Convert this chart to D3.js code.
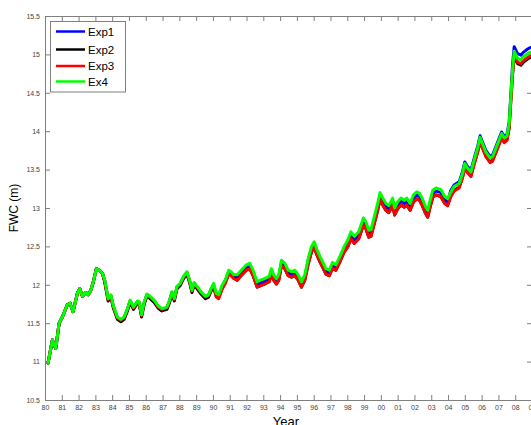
<!DOCTYPE html>
<html>
<head>
<meta charset="utf-8">
<script src="https://cdn.jsdelivr.net/npm/d3@7"></script>
<style>
  body { margin: 0; background: #fff; }
  svg { display: block; font-family: "Liberation Sans", Arial, sans-serif; }
</style>
</head>
<body>
<div id="chart"></div>
<script>
// decimal years of the sampled points
const years = [
  1980.18, 1980.44, 1980.64, 1980.84, 1981.03, 1981.33, 1981.49, 1981.67, 1981.93, 1982.07,
  1982.23, 1982.43, 1982.58, 1982.73, 1982.88, 1983.06, 1983.22, 1983.42,
  1983.56, 1983.76, 1983.92, 1984.08, 1984.31, 1984.52, 1984.71, 1984.91, 1985.07, 1985.27,
  1985.51, 1985.61, 1985.75, 1985.91, 1986.07, 1986.26, 1986.50, 1986.76, 1986.96, 1987.26,
  1987.42, 1987.56, 1987.70, 1987.86, 1988.05, 1988.25, 1988.45, 1988.61, 1988.75, 1988.89,
  1989.05, 1989.29, 1989.55, 1989.74, 1989.89,
  1990.04, 1990.20, 1990.34, 1990.54, 1990.74, 1990.94, 1991.08, 1991.24,
  1991.44, 1991.69, 1991.99, 1992.19, 1992.39, 1992.63, 1992.83, 1993.08, 1993.35, 1993.48,
  1993.62, 1993.78, 1993.92, 1994.08, 1994.28, 1994.48, 1994.68, 1994.87, 1995.08, 1995.27,
  1995.47, 1995.67, 1995.87, 1996.03, 1996.21, 1996.37, 1996.53, 1996.73, 1996.93, 1997.12,
  1997.32, 1997.56, 1997.82,
  1998.02, 1998.22, 1998.42, 1998.68, 1998.96, 1999.11, 1999.28, 1999.41, 1999.61, 1999.81,
  1999.95, 2000.11, 2000.30, 2000.47, 2000.60, 2000.70, 2000.82, 2001.00, 2001.20, 2001.40,
  2001.54, 2001.74, 2001.94, 2002.14, 2002.30, 2002.45, 2002.66, 2002.79, 2002.93, 2003.09,
  2003.29, 2003.57, 2003.80, 2003.97,
  2004.15, 2004.36, 2004.66, 2004.86, 2005.00, 2005.16, 2005.36, 2005.56, 2005.76, 2005.91,
  2006.05, 2006.25, 2006.51, 2006.65, 2006.85, 2007.05, 2007.19, 2007.35, 2007.51, 2007.64,
  2007.74,
  2007.84, 2007.94, 2008.14, 2008.34, 2008.50, 2008.74, 2008.90
]

const exp1 = [
  10.98, 11.28, 11.17, 11.50, 11.58, 11.74, 11.76, 11.65, 11.89, 11.95,
  11.85, 11.90, 11.87, 11.93, 12.04, 12.21, 12.19, 12.15,
  12.05, 11.81, 11.86, 11.71, 11.57, 11.54, 11.57, 11.68, 11.79, 11.70,
  11.78, 11.77, 11.60, 11.77, 11.87, 11.84, 11.79, 11.71, 11.68, 11.70,
  11.79, 11.90, 11.81, 11.97, 12.01, 12.10, 12.16, 12.05, 11.92, 12.02,
  11.97, 11.90, 11.84, 11.86, 11.94,
  12.00, 11.87, 11.85, 11.97, 12.05, 12.17, 12.15, 12.11,
  12.10, 12.16, 12.23, 12.25, 12.16, 12.01, 12.03, 12.05, 12.08, 12.18,
  12.10, 12.05, 12.10, 12.29, 12.25, 12.16, 12.14, 12.16, 12.10, 12.01,
  12.10, 12.31, 12.47, 12.53, 12.42, 12.34, 12.27, 12.18, 12.16, 12.26,
  12.23, 12.34, 12.47,
  12.54, 12.65, 12.59, 12.65, 12.83, 12.78, 12.67, 12.68, 12.85, 13.02,
  13.16, 13.09, 13.02, 12.99, 13.04, 13.09, 12.96, 13.04, 13.09, 13.06,
  13.09, 13.02, 13.13, 13.17, 13.15, 13.09, 12.98, 12.93, 13.06, 13.19,
  13.22, 13.20, 13.11, 13.08,
  13.22, 13.30, 13.34, 13.47, 13.60, 13.54, 13.49, 13.65, 13.80, 13.94,
  13.86, 13.75, 13.67, 13.69, 13.80, 13.91, 13.99, 13.93, 13.96, 14.12,
  14.47,
  14.86, 15.10, 15.01, 14.99, 15.03, 15.07, 15.09
]

const exp2 = [
  10.98, 11.28, 11.17, 11.50, 11.58, 11.74, 11.76, 11.65, 11.89, 11.95,
  11.85, 11.90, 11.87, 11.93, 12.04, 12.21, 12.19, 12.15,
  12.03, 11.79, 11.84, 11.69, 11.55, 11.52, 11.55, 11.66, 11.77, 11.68,
  11.76, 11.75, 11.58, 11.75, 11.85, 11.82, 11.77, 11.69, 11.66, 11.68,
  11.77, 11.88, 11.79, 11.95, 11.99, 12.08, 12.14, 12.03, 11.90, 12.00,
  11.95, 11.88, 11.82, 11.84, 11.92,
  11.98, 11.85, 11.83, 11.95, 12.03, 12.15, 12.13, 12.09,
  12.06, 12.12, 12.19, 12.21, 12.12, 11.97, 11.99, 12.01, 12.04, 12.14,
  12.06, 12.01, 12.06, 12.25, 12.21, 12.12, 12.10, 12.12, 12.06, 11.97,
  12.06, 12.27, 12.43, 12.49, 12.38, 12.30, 12.23, 12.14, 12.12, 12.22,
  12.19, 12.30, 12.43,
  12.49, 12.60, 12.54, 12.60, 12.78, 12.73, 12.62, 12.63, 12.80, 12.97,
  13.11, 13.04, 12.97, 12.94, 12.99, 13.04, 12.91, 12.99, 13.04, 13.01,
  13.04, 12.97, 13.08, 13.12, 13.10, 13.04, 12.93, 12.88, 13.01, 13.14,
  13.17, 13.15, 13.06, 13.03,
  13.15, 13.23, 13.27, 13.40, 13.53, 13.47, 13.42, 13.58, 13.73, 13.87,
  13.79, 13.68, 13.60, 13.62, 13.73, 13.84, 13.92, 13.86, 13.89, 14.05,
  14.40,
  14.73, 14.97, 14.88, 14.86, 14.90, 14.94, 14.96
]

const exp3 = [
  10.98, 11.28, 11.17, 11.50, 11.58, 11.74, 11.76, 11.65, 11.89, 11.95,
  11.85, 11.90, 11.87, 11.93, 12.04, 12.21, 12.19, 12.15,
  12.05, 11.81, 11.86, 11.71, 11.57, 11.54, 11.57, 11.68, 11.79, 11.70,
  11.78, 11.77, 11.60, 11.77, 11.87, 11.84, 11.79, 11.71, 11.68, 11.70,
  11.79, 11.90, 11.81, 11.97, 12.01, 12.10, 12.16, 12.05, 11.92, 12.02,
  11.97, 11.90, 11.84, 11.86, 11.94,
  11.97, 11.84, 11.82, 11.94, 12.02, 12.14, 12.12, 12.08,
  12.06, 12.12, 12.19, 12.21, 12.12, 11.97, 11.99, 12.01, 12.04, 12.14,
  12.06, 12.01, 12.06, 12.25, 12.21, 12.12, 12.10, 12.12, 12.06, 11.97,
  12.06, 12.27, 12.43, 12.49, 12.38, 12.30, 12.23, 12.14, 12.12, 12.22,
  12.19, 12.30, 12.43,
  12.49, 12.60, 12.54, 12.60, 12.78, 12.73, 12.62, 12.63, 12.80, 12.97,
  13.11, 13.04, 12.97, 12.94, 12.99, 13.04, 12.91, 12.99, 13.04, 13.01,
  13.04, 12.97, 13.08, 13.12, 13.10, 13.04, 12.93, 12.88, 13.01, 13.14,
  13.17, 13.15, 13.06, 13.03,
  13.14, 13.22, 13.26, 13.39, 13.52, 13.46, 13.41, 13.57, 13.72, 13.86,
  13.78, 13.67, 13.59, 13.61, 13.72, 13.83, 13.91, 13.85, 13.88, 14.04,
  14.39,
  14.75, 14.99, 14.90, 14.88, 14.92, 14.96, 14.98
]

const ex4 = [
  10.98, 11.28, 11.17, 11.50, 11.58, 11.74, 11.76, 11.65, 11.89, 11.95,
  11.85, 11.90, 11.87, 11.93, 12.04, 12.21, 12.19, 12.15,
  12.06, 11.82, 11.87, 11.72, 11.58, 11.55, 11.58, 11.69, 11.80, 11.71,
  11.79, 11.78, 11.61, 11.78, 11.88, 11.85, 11.80, 11.72, 11.69, 11.71,
  11.80, 11.91, 11.82, 11.98, 12.02, 12.11, 12.17, 12.06, 11.93, 12.03,
  11.98, 11.91, 11.85, 11.87, 11.95,
  12.02, 11.89, 11.87, 11.99, 12.07, 12.19, 12.17, 12.13,
  12.13, 12.19, 12.26, 12.28, 12.19, 12.04, 12.06, 12.08, 12.11, 12.21,
  12.13, 12.08, 12.13, 12.32, 12.28, 12.19, 12.17, 12.19, 12.13, 12.04,
  12.13, 12.34, 12.50, 12.56, 12.45, 12.37, 12.30, 12.21, 12.19, 12.29,
  12.26, 12.37, 12.50,
  12.58, 12.69, 12.63, 12.69, 12.87, 12.82, 12.71, 12.72, 12.89, 13.06,
  13.20, 13.13, 13.06, 13.03, 13.08, 13.13, 13.00, 13.08, 13.13, 13.10,
  13.13, 13.06, 13.17, 13.21, 13.19, 13.13, 13.02, 12.97, 13.10, 13.23,
  13.26, 13.24, 13.15, 13.12,
  13.20, 13.28, 13.32, 13.45, 13.58, 13.52, 13.47, 13.63, 13.78, 13.92,
  13.84, 13.73, 13.65, 13.67, 13.78, 13.89, 13.97, 13.91, 13.94, 14.10,
  14.45,
  14.80, 15.04, 14.95, 14.93, 14.97, 15.01, 15.03
]

const seriesNames = ['Exp1', 'Exp2', 'Exp3', 'Ex4']
const seriesColors = ['#0000ff', '#000000', '#ff0000', '#00ff00']
const xTicks = d3.range(1980, 2010)
const yTicks = [10.5, 11, 11.5, 12, 12.5, 13, 13.5, 14, 14.5, 15, 15.5]

const width = 531, height = 425
const margin = {top: 16, right: -1, bottom: 25, left: 45}

const svg = d3.select('#chart').append('svg')
  .attr('width', width)
  .attr('height', height)

const x = d3.scaleLinear()
  .domain([1980, 2009])
  .range([margin.left, width - margin.right])
const y = d3.scaleLinear()
  .domain([10.5, 15.5])
  .range([height - margin.bottom, margin.top])

const axisColor = '#7f7f7f'
const styleAxis = g => {
  g.select('.domain').attr('stroke', axisColor)
  g.selectAll('.tick line').attr('stroke', axisColor)
  g.selectAll('.tick text').attr('fill', '#444').style('font-size', '7px')
}

// bottom / top / left / right axes, ticks pointing inward
svg.append('g')
  .attr('transform', `translate(0, ${y(10.5)})`)
  .call(d3.axisBottom(x).tickValues(xTicks).tickSizeInner(-5).tickSizeOuter(0)
    .tickPadding(5).tickFormat(d => String(d % 100).padStart(2, '0')))
  .call(styleAxis)
svg.append('g')
  .attr('transform', `translate(0, ${y(15.5)})`)
  .call(d3.axisTop(x).tickValues(xTicks).tickSizeInner(-5).tickSizeOuter(0).tickFormat(''))
  .call(styleAxis)
svg.append('g')
  .attr('transform', `translate(${x(1980)}, 0)`)
  .call(d3.axisLeft(y).tickValues(yTicks).tickSizeInner(-5).tickSizeOuter(0)
    .tickPadding(5).tickFormat(d3.format('')))
  .call(styleAxis)
svg.append('g')
  .attr('transform', `translate(${x(2009)}, 0)`)
  .call(d3.axisRight(y).tickValues(yTicks).tickSizeInner(-5).tickSizeOuter(0).tickFormat(''))
  .call(styleAxis)

// lines
const line = d3.line()
  .x((d, i) => x(years[i]))
  .y(d => y(d))
const allSeries = [exp1, exp2, exp3, ex4]
svg.append('g').selectAll('path')
  .data(allSeries)
  .enter().append('path')
  .attr('d', d => line(d))
  .attr('fill', 'none')
  .attr('stroke', (d, i) => seriesColors[i])
  .attr('stroke-width', 3)
  .attr('stroke-linejoin', 'round')
  .attr('stroke-linecap', 'round')

// axis titles
svg.append('text')
  .attr('x', 286)
  .attr('y', 426)
  .attr('text-anchor', 'middle')
  .style('font-size', '13px')
  .text('Year')
svg.append('text')
  .attr('transform', `translate(18, ${(y(10.5) + y(15.5)) / 2}) rotate(-90)`)
  .attr('text-anchor', 'middle')
  .style('font-size', '12px')
  .text('FWC (m)')

// legend
const legend = svg.append('g')
legend.append('rect')
  .attr('x', 50.5).attr('y', 21.5)
  .attr('width', 75).attr('height', 70.5)
  .attr('fill', '#fff')
  .attr('stroke', axisColor)
const rowY = [31.5, 49.5, 66, 81.5]
const item = legend.selectAll('.item')
  .data(seriesNames)
  .enter().append('g')
  .attr('transform', (d, i) => `translate(0, ${rowY[i]})`)
item.append('line')
  .attr('x1', 56).attr('x2', 85)
  .attr('stroke', (d, i) => seriesColors[i])
  .attr('stroke-width', 2.5)
item.append('text')
  .attr('x', 88)
  .attr('y', 4)
  .style('font-size', '11.5px')
  .text(d => d)
</script>
</body>
</html>
